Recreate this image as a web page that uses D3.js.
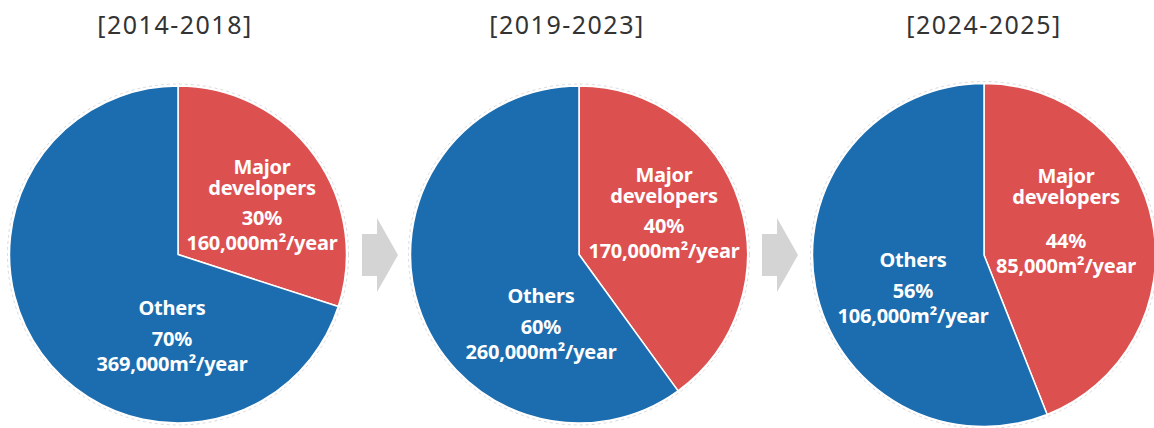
<!DOCTYPE html>
<html>
<head>
<meta charset="utf-8">
<script src="https://cdn.jsdelivr.net/npm/d3@7"></script>
<style>
  html, body { margin: 0; padding: 0; background: #fff; }
  svg { display: block; }
</style>
</head>
<body>
<svg id="chart" width="1154" height="428"></svg>
<script>
// Supply shares by period
const periods = ["[2014-2018]", "[2019-2023]", "[2024-2025]"];
const categories = ["Major developers", "Others"];
const majorShare = [30, 40, 44];
const othersShare = [70, 60, 56];
const majorVolume = [160000, 170000, 85000];
const othersVolume = [369000, 260000, 106000];

// Layout
const pieCenters = [[178, 254.5], [579, 254.5], [984, 255]];
const pieRadius = [168.5, 168.5, 171.5];
const titleX = [175, 567, 984];
const titleY = 24;
// label anchor points (relative to each pie centre): [major, others]
const labelPos = [
  [[84, -88], [-6, 53]],
  [[85, -80], [-38, 41]],
  [[82, -79], [-71, 5]]
];
const arrowXs = [362, 762];

const colors = { "Major developers": "#dd5050", "Others": "#1b6daf" };
const fmt = d3.format(",");

const svg = d3.select("#chart");

const pie = d3.pie()
  .sort(null)
  .value(d => d.value);

periods.forEach((p, i) => {
  const data = [
    { cat: categories[0], value: majorShare[i], vol: majorVolume[i] },
    { cat: categories[1], value: othersShare[i], vol: othersVolume[i] }
  ];
  const [cx, cy] = pieCenters[i];
  const r = pieRadius[i];
  const arc = d3.arc().innerRadius(0).outerRadius(r);

  const g = svg.append("g").attr("transform", `translate(${cx},${cy})`);

  // faint dotted outline around the disc
  g.append("circle")
    .attr("r", r + 2)
    .attr("fill", "none")
    .attr("stroke", "#cfcfcf")
    .attr("stroke-width", 0.8)
    .attr("stroke-dasharray", "3,3");

  g.selectAll("path.slice")
    .data(pie(data))
    .join("path")
    .attr("class", "slice")
    .attr("d", arc)
    .attr("fill", d => colors[d.data.cat])
    .attr("stroke", "#fff")
    .attr("stroke-width", 1.5)
    .attr("stroke-linejoin", "round");

  // slice labels
  data.forEach((d, k) => {
    const [lx, ly] = labelPos[i][k];
    const lines = d.cat === "Major developers"
      ? [["Major", 0], ["developers", 21], [d.value + "%", 51], [fmt(d.vol) + "m²/year", 76]]
      : [["Others", 0], [d.value + "%", 31], [fmt(d.vol) + "m²/year", 56]];
    const gap = (i === 2 && k === 0) ? 14 : 0;
    const t = g.append("text")
      .attr("text-anchor", "middle")
      .attr("fill", "#fff")
      .attr("font-family", "'Noto Sans', 'Open Sans', sans-serif")
      .attr("font-weight", 700)
      .attr("font-size", 20)
      .attr("letter-spacing", -0.2);
    lines.forEach(([s, dy], j) => {
      t.append("tspan")
        .attr("x", lx)
        .attr("y", ly + dy + (j >= 2 ? gap : 0) + 7)
        .text(s);
    });
  });

  svg.append("text")
    .attr("x", titleX[i])
    .attr("y", titleY)
    .attr("text-anchor", "middle")
    .attr("dominant-baseline", "central")
    .attr("fill", "#333")
    .attr("font-family", "'Noto Sans', sans-serif")
    .attr("font-size", 25)
    .attr("letter-spacing", 1.5)
    .text(p);
});

// block arrows between periods
arrowXs.forEach(x0 => {
  const cy = 255;
  const pts = [
    [x0, cy - 21], [x0 + 15, cy - 21], [x0 + 15, cy - 37],
    [x0 + 36, cy], [x0 + 15, cy + 37], [x0 + 15, cy + 21], [x0, cy + 21]
  ];
  svg.append("path")
    .attr("d", d3.line()(pts) + "Z")
    .attr("fill", "#d4d4d4");
});
</script>
</body>
</html>
